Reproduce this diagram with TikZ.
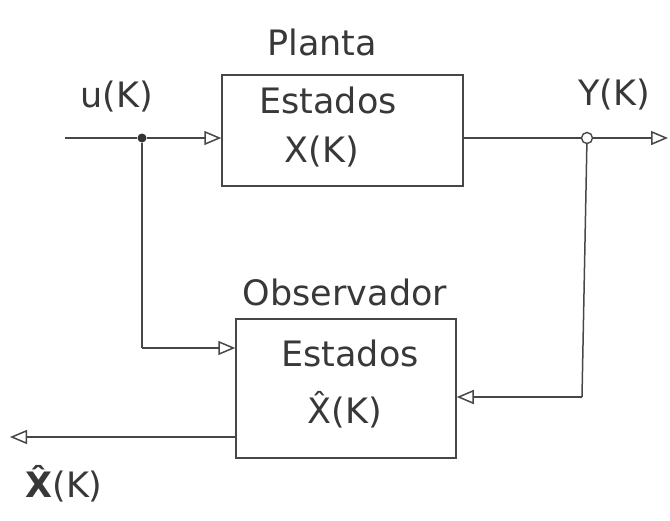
\documentclass[tikz,border=0pt]{standalone}
\usepackage{fontspec}
\setmainfont{DejaVu Sans}
\usetikzlibrary{arrows.meta}
\begin{document}
\begin{tikzpicture}[x=1pt,y=-1pt,
  ink/.style={draw=black!72, line width=1.5pt},
  wire/.style={ink},
  sig/.style={ink, -{Triangle[open, length=17pt, width=14pt]}},
  block/.style={ink, rectangle, inner sep=0pt},
  txt/.style={text=black!78, inner sep=1pt, font=\fontsize{35}{40}\selectfont},
  junction/.style={circle, fill=black!80, inner sep=0pt, minimum size=9pt},
  tap/.style={circle, ink, line width=1.4pt, fill=white, inner sep=0pt, minimum size=11pt}]
\useasboundingbox (0,0) rectangle (670,520);

% blocks
\node[block, minimum width=241pt, minimum height=111pt] (plant) at (342.5,130.5) {};
\node[block, minimum width=220pt, minimum height=139pt] (obs) at (346,388.5) {};

% block titles and contents
\node[txt] (plantname) at (322,42) {Planta};
\node[txt] (plantst) at (328,100) {Estados};
\node[txt] (plantx) at (322,152) {X(K)};
\node[txt] (obsname) at (345,292) {Observador};
\node[txt] (obsst) at (350,353) {Estados};
\node[txt] (obsx) at (345,410) {\^{X}(K)};

% signal labels
\node[txt] (ulbl) at (117,97) {u(K)};
\node[txt] (ylbl) at (614,95) {Y(K)};
\node[txt] (xhatlbl) at (64,484) {\textbf{\^{X}}(K)};

% branch points and free ends
\coordinate (uin) at (65,138);
\node[junction] (udot) at (142,138) {};
\coordinate (ucorner) at (142,348);
\node[tap] (ytap) at (587,138) {};
\coordinate (yout) at (668,138);
\coordinate (ycorner) at (582,397);
\coordinate (xhatout) at (10,437);
\coordinate (xhatsrc) at (obs.west |- xhatout);

% input path
\draw[wire] (uin) -- (udot);
\draw[sig] (udot) -- (udot -| plant.west);
\draw[wire] (udot) -- (ucorner);
\draw[sig] (ucorner) -- (ucorner -| obs.west);

% output path
\draw[wire] (ytap -| plant.east) -- (ytap);
\draw[sig] (ytap) -- (yout);
\draw[wire] (ytap) -- (ycorner);
\draw[sig] (ycorner) -- (ycorner -| obs.east);

% estimated state
\draw[sig] (xhatsrc) -- (xhatout);
\end{tikzpicture}
\end{document}
